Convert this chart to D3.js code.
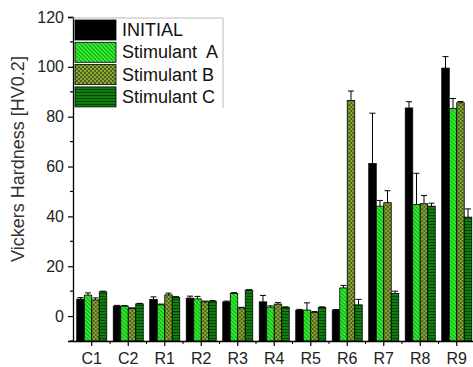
<!DOCTYPE html>
<html>
<head>
<meta charset="utf-8">
<script src="https://cdn.jsdelivr.net/npm/d3@7"></script>
<style>
  html, body { margin: 0; padding: 0; background: #fff; }
  svg { display: block; font-family: Arial, "Liberation Sans", sans-serif; }
  .legend-label { white-space: pre; }
</style>
</head>
<body>
<svg id="chart" width="473" height="367"></svg>
<script>
// Samples and measured hardness per treatment
const categories = ["C1", "C2", "R1", "R2", "R3", "R4", "R5", "R6", "R7", "R8", "R9"];
const seriesNames = ["INITIAL", "Stimulant  A", "Stimulant B", "Stimulant C"];

const initial     = [6.8, 4.0, 6.7, 7.2, 5.7, 5.7, 2.4, 2.4, 61.2, 83.5, 99.5];
const initialErr  = [0.6, 0.3, 1.0, 0.8, 0.3, 2.6, 0.3, 0.2, 20.2, 2.5, 4.6];
const stimA       = [8.4, 4.0, 4.5, 6.9, 9.1, 3.6, 2.4, 11.3, 44.1, 44.8, 83.3];
const stimAErr    = [0.9, 0.2, 0.3, 1.0, 0.3, 0.5, 2.9, 1.0, 2.3, 12.5, 4.0];
const stimB       = [6.5, 3.1, 8.5, 5.7, 3.3, 4.8, 1.5, 86.5, 45.5, 45.1, 85.6];
const stimBErr    = [0.8, 0.2, 0.7, 0.3, 0.2, 0.6, 0.3, 3.8, 4.8, 3.3, 0.5];
const stimC       = [9.7, 4.9, 7.5, 6.0, 10.4, 3.5, 3.5, 4.5, 9.1, 44.1, 39.7];
const stimCErr    = [0.3, 0.2, 0.3, 0.2, 0.2, 0.2, 0.2, 2.2, 0.9, 1.2, 3.3];

const yMajorTicks = [0, 20, 40, 60, 80, 100, 120];

const seriesValues = [initial, stimA, stimB, stimC];
const seriesErrors = [initialErr, stimAErr, stimBErr, stimCErr];
const fills = ["#000000", "url(#patA)", "url(#patB)", "url(#patC)"];

const svg = d3.select("#chart");

// Fill patterns for the stimulant series
const defs = svg.append("defs");
const pA = defs.append("pattern").attr("id", "patA")
  .attr("patternUnits", "userSpaceOnUse").attr("width", 4).attr("height", 4);
pA.append("rect").attr("width", 4).attr("height", 4).attr("fill", "#33f533");
pA.append("path").attr("d", "M0,0 L4,4 M-1,3 L1,5 M3,-1 L5,1")
  .attr("stroke", "#129e12").attr("stroke-width", 1.1);

const pB = defs.append("pattern").attr("id", "patB")
  .attr("patternUnits", "userSpaceOnUse").attr("width", 4).attr("height", 4);
pB.append("rect").attr("width", 4).attr("height", 4).attr("fill", "#8aa836");
pB.append("rect").attr("width", 2).attr("height", 2).attr("fill", "#4b6518");
pB.append("rect").attr("x", 2).attr("y", 2).attr("width", 2).attr("height", 2).attr("fill", "#4b6518");

const pC = defs.append("pattern").attr("id", "patC")
  .attr("patternUnits", "userSpaceOnUse").attr("width", 4).attr("height", 3);
pC.append("rect").attr("width", 4).attr("height", 3).attr("fill", "#117d11");
pC.append("rect").attr("y", 2).attr("width", 4).attr("height", 1).attr("fill", "#024a02");

// Scales
const x = d3.scaleBand().domain(categories).range([73.5, 475])
  .paddingInner(0.178).paddingOuter(0.089);
const xs = d3.scaleBand().domain(d3.range(4)).range([0, x.bandwidth()]);
const y = d3.scaleLinear().domain([-10, 120]).range([341, 17]);

// Bars (drawn up from the axis floor)
const groups = svg.append("g").selectAll("g").data(categories).join("g")
  .attr("transform", d => `translate(${x(d)},0)`);

groups.each(function(cat, ci) {
  const g = d3.select(this);
  seriesValues.forEach((vals, si) => {
    const v = vals[ci], e = seriesErrors[si][ci];
    const bx = xs(si), bw = xs.bandwidth();
    g.append("rect")
      .attr("x", bx).attr("y", y(v))
      .attr("width", bw).attr("height", y(-10) - y(v))
      .attr("fill", fills[si]).attr("stroke", "#000").attr("stroke-width", 0.8);
    if (e > 0) {
      const cx = bx + bw / 2;
      g.append("line").attr("x1", cx).attr("x2", cx)
        .attr("y1", y(v)).attr("y2", y(v + e))
        .attr("stroke", "#000").attr("stroke-width", 1);
      g.append("line").attr("x1", cx - 3).attr("x2", cx + 3)
        .attr("y1", y(v + e)).attr("y2", y(v + e))
        .attr("stroke", "#000").attr("stroke-width", 1);
    }
  });
});

// Y axis
const yAxis = d3.axisLeft(y).tickValues(yMajorTicks).tickSize(5).tickPadding(4);
const yg = svg.append("g").attr("transform", "translate(73,0)").call(yAxis);
yg.select(".domain").attr("stroke-width", 1.3);
yg.selectAll(".tick line").attr("stroke-width", 1.2);
yg.selectAll(".tick text").attr("font-size", 16).attr("fill", "#222")
  .attr("font-family", "Arial, 'Liberation Sans', sans-serif");
const yMinor = d3.range(-10, 121, 10).filter(v => !yMajorTicks.includes(v));
yg.selectAll(".minor").data(yMinor).join("line").attr("class", "minor")
  .attr("x1", -3).attr("x2", 0).attr("y1", d => y(d)).attr("y2", d => y(d))
  .attr("stroke", "#000").attr("stroke-width", 1.2);

// X axis
const xAxis = d3.axisBottom(x).tickSize(5).tickPadding(7).tickSizeOuter(0);
const xg = svg.append("g").attr("transform", `translate(0,${y(-10)})`).call(xAxis);
xg.select(".domain").attr("stroke-width", 1.3);
xg.selectAll(".tick line").attr("stroke-width", 1.2);
xg.selectAll(".tick text").attr("font-size", 16).attr("fill", "#222")
  .attr("font-family", "Arial, 'Liberation Sans', sans-serif");
const xBounds = categories.slice(1).map(c => x(c) - x.step() * x.paddingInner() / 2);
xg.selectAll(".minor").data(xBounds).join("line").attr("class", "minor")
  .attr("x1", d => d).attr("x2", d => d).attr("y1", 0).attr("y2", 3)
  .attr("stroke", "#000").attr("stroke-width", 1);

// Y axis title
svg.append("text")
  .attr("transform", "translate(24,159) rotate(-90)")
  .attr("text-anchor", "middle")
  .attr("font-size", 18).attr("fill", "#333")
  .text("Vickers Hardness [HV0.2]");

// Legend
const legend = svg.append("g");
legend.append("path").attr("d", "M73,18 H223 V108")
  .attr("fill", "none").attr("stroke", "#bbb").attr("stroke-width", 1);
seriesNames.forEach((name, i) => {
  const top = 20 + i * 22.3;
  legend.append("rect").attr("x", 75).attr("y", top).attr("width", 41).attr("height", 20)
    .attr("fill", fills[i]).attr("stroke", "#000").attr("stroke-width", 0.8);
  legend.append("text").attr("class", "legend-label")
    .attr("x", 122).attr("y", top + 16)
    .attr("font-size", 18).attr("fill", "#111").text(name);
});
</script>
</body>
</html>
